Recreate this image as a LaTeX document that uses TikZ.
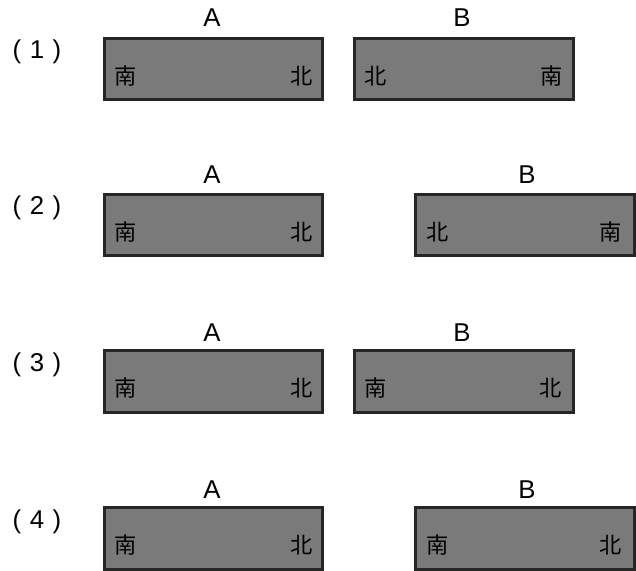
\documentclass[tikz,border=0pt]{standalone}
\usepackage{fontspec}
\setmainfont{Liberation Sans}
\newfontfamily\cjk{Noto Sans CJK SC}
\usepackage{tikz}

\begin{document}
\begin{tikzpicture}[x=0.03cm, y=-0.03cm,
        magnet/.style={draw=black!85, line width=2.4pt, fill=black!52, minimum width=6.55cm, minimum height=1.85cm, inner sep=0pt},
        pole/.style={font=\cjk\fontsize{19}{19}\selectfont, inner sep=0pt},
        lbl/.style={font=\fontsize{22}{24}\selectfont, inner sep=0pt}]
        \useasboundingbox (0,0) rectangle (636,571);

        % row labels
        \node[lbl] (r1) at (37,52) {(\,\,1\,\,)};
        \node[lbl] (r2) at (37,208) {(\,\,2\,\,)};
        \node[lbl] (r3) at (37,365) {(\,\,3\,\,)};
        \node[lbl] (r4) at (37,522) {(\,\,4\,\,)};

        % (1)
        \node[magnet] (A1) at (213.5,69) {};
        \node[magnet] (B1) at (464,69) {};
        \node[lbl] (A1t) at (212,18) {A};
        \node[lbl] (B1t) at (462,18) {B};
        \node[pole] (A1s) at (126,76) {南};
        \node[pole] (A1n) at (302,76) {北};
        \node[pole] (B1n) at (376,76) {北};
        \node[pole] (B1s) at (552,76) {南};

        % (2)
        \node[magnet] (A2) at (213.5,225) {};
        \node[magnet] (B2) at (525,225) {};
        \node[lbl] (A2t) at (212,175) {A};
        \node[lbl] (B2t) at (527,175) {B};
        \node[pole] (A2s) at (126,232) {南};
        \node[pole] (A2n) at (302,232) {北};
        \node[pole] (B2n) at (438,232) {北};
        \node[pole] (B2s) at (611,232) {南};

        % (3)
        \node[magnet] (A3) at (213.5,381.5) {};
        \node[magnet] (B3) at (464,381.5) {};
        \node[lbl] (A3t) at (212,333) {A};
        \node[lbl] (B3t) at (462,333) {B};
        \node[pole] (A3s) at (126,388) {南};
        \node[pole] (A3n) at (302,388) {北};
        \node[pole] (B3s) at (376,388) {南};
        \node[pole] (B3n) at (551,388) {北};

        % (4)
        \node[magnet] (A4) at (213.5,538.5) {};
        \node[magnet] (B4) at (525,538.5) {};
        \node[lbl] (A4t) at (212,490) {A};
        \node[lbl] (B4t) at (527,490) {B};
        \node[pole] (A4s) at (126,545) {南};
        \node[pole] (A4n) at (302,545) {北};
        \node[pole] (B4s) at (438,545) {南};
        \node[pole] (B4n) at (611,545) {北};
    \end{tikzpicture}
\end{document}
